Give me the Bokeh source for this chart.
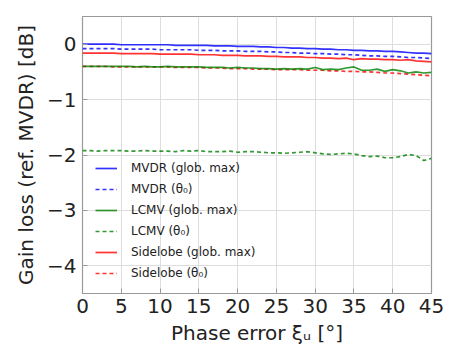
from bokeh.plotting import figure
from bokeh.models import Legend, LegendItem, FixedTicker, Range1d
from bokeh.embed import file_html
from bokeh.resources import INLINE

phase_error = list(range(0, 46))

mvdr_glob = [0.00, 0.00, 0.00, 0.00, 0.00, -0.01, -0.01, -0.01, -0.01, -0.01,
             -0.01, -0.01, -0.02, -0.02, -0.02, -0.02, -0.02, -0.03, -0.03, -0.03,
             -0.04, -0.04, -0.04, -0.05, -0.05, -0.06, -0.06, -0.07, -0.07, -0.08,
             -0.08, -0.09, -0.09, -0.10, -0.10, -0.11, -0.11, -0.12, -0.12, -0.13,
             -0.13, -0.14, -0.15, -0.16, -0.16, -0.17]
mvdr_theta = [-0.08, -0.08, -0.08, -0.08, -0.08, -0.09, -0.09, -0.09, -0.09, -0.09,
              -0.10, -0.10, -0.10, -0.10, -0.10, -0.11, -0.11, -0.11, -0.12, -0.12,
              -0.12, -0.13, -0.13, -0.13, -0.14, -0.14, -0.15, -0.15, -0.16, -0.16,
              -0.17, -0.17, -0.18, -0.18, -0.19, -0.19, -0.20, -0.21, -0.21, -0.22,
              -0.22, -0.23, -0.24, -0.24, -0.25, -0.26]
lcmv_glob = [-0.40, -0.40, -0.40, -0.40, -0.40, -0.40, -0.40, -0.41, -0.40, -0.41,
             -0.41, -0.40, -0.41, -0.41, -0.41, -0.41, -0.42, -0.42, -0.42, -0.43,
             -0.42, -0.43, -0.43, -0.44, -0.44, -0.45, -0.44, -0.45, -0.44, -0.45,
             -0.42, -0.46, -0.45, -0.46, -0.43, -0.41, -0.47, -0.47, -0.45, -0.49,
             -0.46, -0.48, -0.52, -0.50, -0.52, -0.51]
lcmv_theta = [-1.92, -1.92, -1.93, -1.92, -1.92, -1.92, -1.93, -1.93, -1.92, -1.93,
              -1.93, -1.93, -1.94, -1.92, -1.93, -1.92, -1.94, -1.94, -1.94, -1.93,
              -1.95, -1.94, -1.94, -1.95, -1.96, -1.96, -1.97, -1.96, -1.95, -1.94,
              -1.96, -1.98, -1.99, -1.98, -1.97, -1.98, -2.01, -2.03, -2.02, -2.05,
              -2.05, -2.03, -1.99, -2.01, -2.10, -2.06]
side_glob = [-0.16, -0.16, -0.16, -0.16, -0.16, -0.17, -0.17, -0.17, -0.17, -0.17,
             -0.18, -0.18, -0.18, -0.18, -0.18, -0.19, -0.19, -0.19, -0.20, -0.20,
             -0.20, -0.21, -0.21, -0.21, -0.22, -0.22, -0.23, -0.23, -0.23, -0.24,
             -0.24, -0.25, -0.25, -0.26, -0.25, -0.28, -0.26, -0.27, -0.27, -0.28,
             -0.28, -0.29, -0.28, -0.30, -0.31, -0.32]
side_theta = [-0.40, -0.40, -0.40, -0.40, -0.41, -0.41, -0.41, -0.41, -0.41, -0.41,
              -0.41, -0.41, -0.42, -0.42, -0.42, -0.42, -0.43, -0.43, -0.43, -0.44,
              -0.44, -0.44, -0.45, -0.45, -0.45, -0.46, -0.46, -0.46, -0.46, -0.47,
              -0.47, -0.47, -0.48, -0.48, -0.49, -0.49, -0.50, -0.50, -0.51, -0.52,
              -0.52, -0.53, -0.54, -0.55, -0.56, -0.57]

x_ticks = [0, 5, 10, 15, 20, 25, 30, 35, 40, 45]
y_ticks = [0, -1, -2, -3, -4]
y_tick_labels = {0: "0", -1: "\u22121", -2: "\u22122", -3: "\u22123", -4: "\u22124"}

FONT = "DejaVu Sans"

p = figure(width=454, height=347, output_backend="svg", toolbar_location=None,
           x_range=Range1d(0, 45), y_range=Range1d(-4.5, 0.5),
           min_border_left=82, min_border_right=23, min_border_top=16, min_border_bottom=54)
p.outline_line_color = "#999999"
p.outline_line_width = 1.2

series = [
    ("MVDR (glob. max)", mvdr_glob, "#0000ff", "solid"),
    ("MVDR (\u03b8\u2080)", mvdr_theta, "#0000ff", "4 3"),
    ("LCMV (glob. max)", lcmv_glob, "#008000", "solid"),
    ("LCMV (\u03b8\u2080)", lcmv_theta, "#008000", "4 3"),
    ("Sidelobe (glob. max)", side_glob, "#ff0000", "solid"),
    ("Sidelobe (\u03b8\u2080)", side_theta, "#ff0000", "4 3"),
]
items = []
draw_order = [4, 5, 2, 3, 0, 1]
renderers = {}
for i in draw_order:
    name, ys, col, dash = series[i]
    r = p.line(phase_error, ys, line_color=col, line_width=1.7, line_dash=dash, line_alpha=0.8)
    renderers[i] = r
for i, (name, ys, col, dash) in enumerate(series):
    items.append(LegendItem(label=name, renderers=[renderers[i]]))

legend = Legend(items=items, location=(13, 10), border_line_color=None,
                background_fill_alpha=0.0, padding=0, margin=0, spacing=1,
                label_height=20, glyph_height=20, glyph_width=22, label_standoff=14,
                label_text_font=FONT, label_text_font_size="12px", label_text_color="#222222")
p.add_layout(legend, "center")

p.xaxis.ticker = FixedTicker(ticks=x_ticks)
p.yaxis.ticker = FixedTicker(ticks=y_ticks)
p.yaxis.major_label_overrides = y_tick_labels
p.xgrid.ticker = FixedTicker(ticks=x_ticks)
p.ygrid.ticker = FixedTicker(ticks=y_ticks)
p.grid.grid_line_color = "#dddddd"
p.grid.grid_line_width = 1

for ax in (p.xaxis[0], p.yaxis[0]):
    ax.axis_line_color = None
    ax.major_tick_in = 5
    ax.major_tick_out = 0
    ax.major_tick_line_color = "#999999"
    ax.minor_tick_line_color = None
    ax.major_label_text_font = FONT
    ax.major_label_text_font_size = "20px"
    ax.major_label_text_color = "#222222"
    ax.axis_label_text_font = FONT
    ax.axis_label_text_font_size = "20px"
    ax.axis_label_text_font_style = "normal"
    ax.axis_label_text_color = "#222222"

p.xaxis.axis_label = "Phase error \u03be\u1d64 [\u00b0]"
p.yaxis.axis_label = "Gain loss (ref. MVDR) [dB]"
p.xaxis.major_label_standoff = 5
p.yaxis.major_label_standoff = 6
p.xaxis.axis_label_standoff = 5
p.yaxis.axis_label_standoff = 6

open("out.html", "w").write(file_html(p, INLINE))
